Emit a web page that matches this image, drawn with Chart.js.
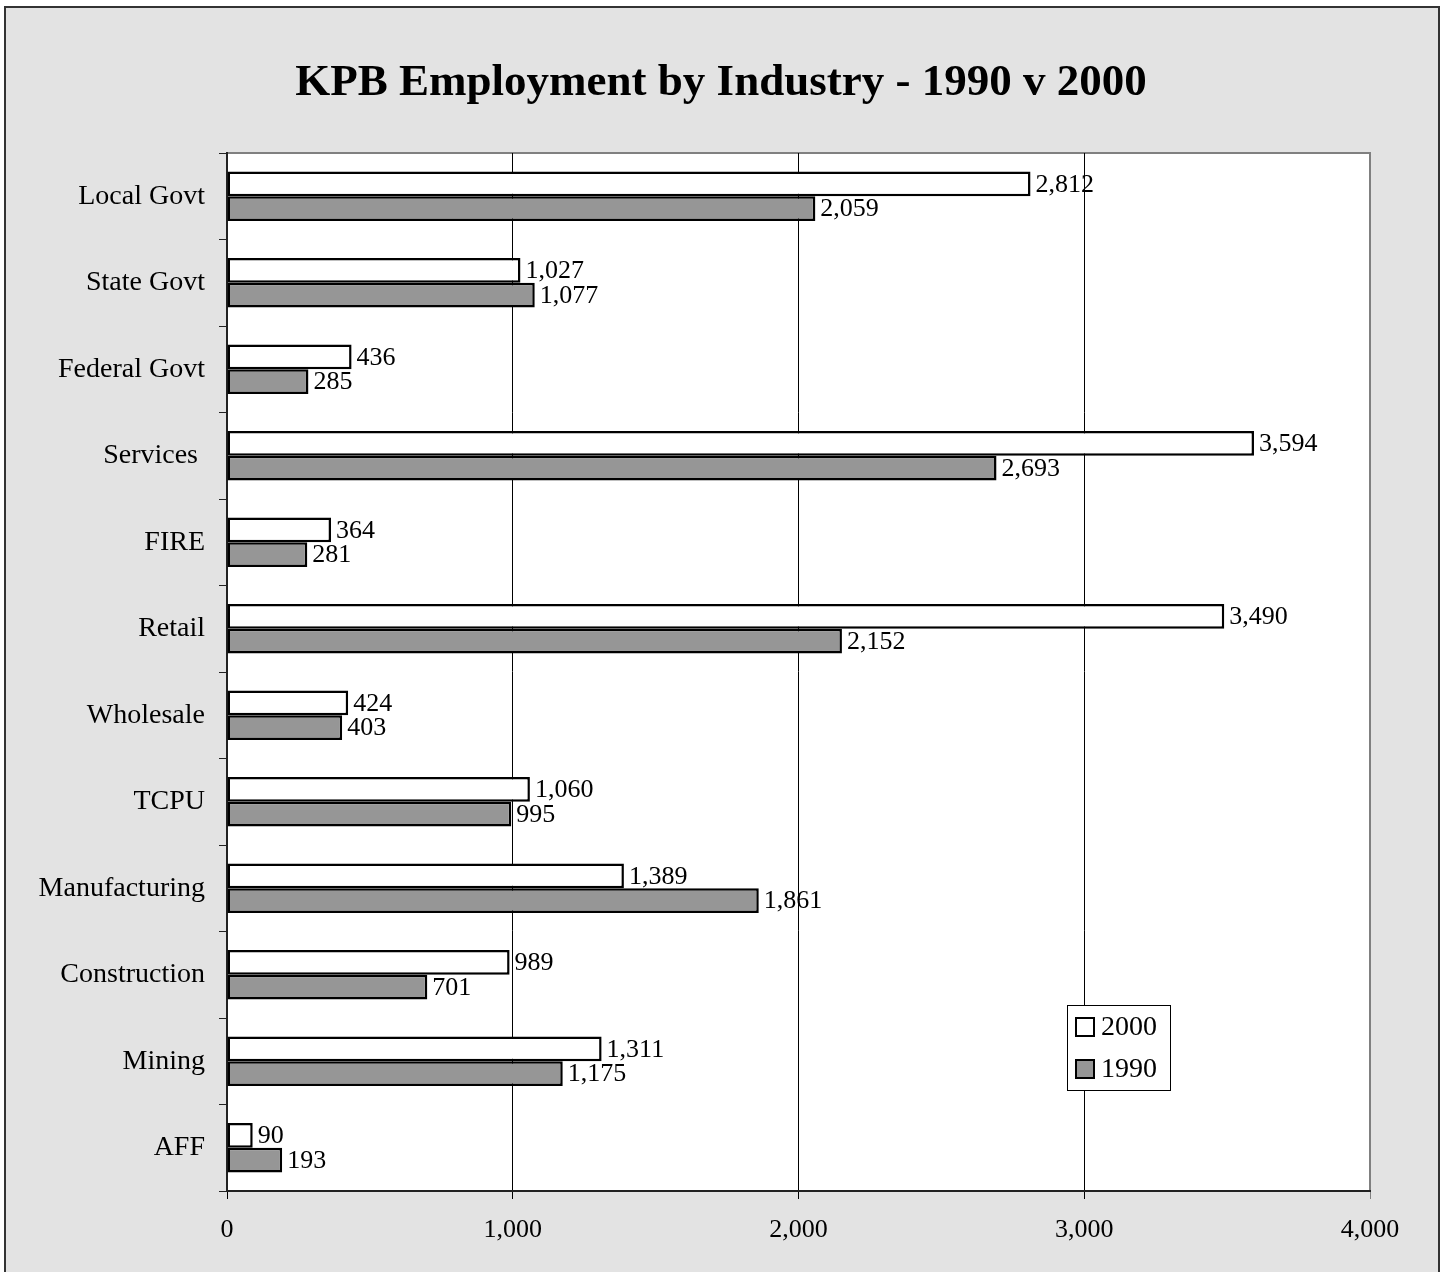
<!DOCTYPE html>
<html>
<head>
<meta charset="utf-8">
<title>KPB Employment by Industry - 1990 v 2000</title>
<script src="https://cdn.jsdelivr.net/npm/chart.js@4.4.1/dist/chart.umd.min.js"></script>
<style>
  html, body { margin: 0; padding: 0; background: #fff; }
  #frame {
    position: absolute; left: 4px; top: 6px;
    width: 1432px; height: 1268px;
    background: #e3e3e3; border: 2px solid #333;
  }
  #kpbChart { position: absolute; left: 0; top: 0; }
</style>
</head>
<body>
<div id="frame"></div>
<canvas id="kpbChart" width="1442" height="1272"></canvas>
<script>
// categories, top to bottom
const industries = ["Local Govt", "State Govt", "Federal Govt", "Services ", "FIRE", "Retail",
  "Wholesale", "TCPU", "Manufacturing", "Construction", "Mining", "AFF"];
const jobs2000 = [2812, 1027, 436, 3594, 364, 3490, 424, 1060, 1389, 989, 1311, 90];
const jobs1990 = [2059, 1077, 285, 2693, 281, 2152, 403, 995, 1861, 701, 1175, 193];
const seriesNames = ["2000", "1990"];
const xTicks = [0, 1000, 2000, 3000, 4000];
const chartTitle = "KPB Employment by Industry - 1990 v 2000";

const serif = "'Liberation Serif', 'Times New Roman', serif";
Chart.defaults.font.family = serif;
Chart.defaults.color = "#000";

function fmt(v) {
  return Number(v).toLocaleString("en-US");
}

// white plot area with grey top/right edge
const plotBg = {
  id: "plotBg",
  beforeDraw(chart) {
    const a = chart.chartArea, ctx = chart.ctx;
    ctx.save();
    ctx.fillStyle = "#fff";
    ctx.fillRect(a.left, a.top, a.right - a.left, a.bottom - a.top);
    ctx.strokeStyle = "#808080";
    ctx.lineWidth = 2;
    ctx.beginPath();
    ctx.moveTo(a.left, a.top);
    ctx.lineTo(a.right, a.top);
    ctx.lineTo(a.right, a.bottom);
    ctx.stroke();
    ctx.restore();
  }
};

// title centred on the whole page, not the plot
const pageTitle = {
  id: "pageTitle",
  afterDraw(chart) {
    const ctx = chart.ctx;
    ctx.save();
    ctx.font = "bold 45px " + serif;
    ctx.fillStyle = "#000";
    ctx.textAlign = "center";
    ctx.textBaseline = "alphabetic";
    ctx.fillText(chartTitle, chart.width / 2, 95);
    ctx.restore();
  }
};

// value labels at the end of each bar
const barLabels = {
  id: "barLabels",
  afterDatasetsDraw(chart) {
    const ctx = chart.ctx;
    ctx.save();
    ctx.font = "26px " + serif;
    ctx.fillStyle = "#000";
    ctx.textAlign = "left";
    ctx.textBaseline = "middle";
    chart.data.datasets.forEach(function (ds, i) {
      chart.getDatasetMeta(i).data.forEach(function (bar, j) {
        ctx.fillText(fmt(ds.data[j]), bar.x + 5, bar.y + 1);
      });
    });
    ctx.restore();
  }
};

// boxed legend in lower right of the plot
const boxLegend = {
  id: "boxLegend",
  afterDraw(chart) {
    const a = chart.chartArea, ctx = chart.ctx;
    const w = 103, h = 85;
    const x = a.right - 200 - w, y = a.bottom - 101 - h;
    ctx.save();
    ctx.fillStyle = "#fff";
    ctx.fillRect(x, y, w, h);
    ctx.strokeStyle = "#000";
    ctx.lineWidth = 1;
    ctx.strokeRect(x + 0.5, y + 0.5, w, h);
    ctx.font = "28px " + serif;
    ctx.textBaseline = "middle";
    chart.data.datasets.forEach(function (ds, i) {
      const cy = y + 22 + i * 42;
      ctx.fillStyle = ds.backgroundColor;
      ctx.fillRect(x + 9, cy - 9, 18, 18);
      ctx.lineWidth = 2;
      ctx.strokeStyle = "#000";
      ctx.strokeRect(x + 9, cy - 9, 18, 18);
      ctx.fillStyle = "#000";
      ctx.fillText(ds.label, x + 34, cy + 1);
    });
    ctx.restore();
  }
};

new Chart(document.getElementById("kpbChart"), {
  type: "bar",
  data: {
    labels: industries,
    datasets: [{
      label: seriesNames[0],
      data: jobs2000,
      backgroundColor: "#ffffff",
      borderColor: "#000",
      borderWidth: 2.5,
      borderSkipped: false,
      categoryPercentage: 0.57,
      barPercentage: 1.0
    }, {
      label: seriesNames[1],
      data: jobs1990,
      backgroundColor: "#969696",
      borderColor: "#000",
      borderWidth: 2.5,
      borderSkipped: false,
      categoryPercentage: 0.57,
      barPercentage: 1.0
    }]
  },
  options: {
    indexAxis: "y",
    responsive: false,
    animation: false,
    devicePixelRatio: 1,
    layout: { padding: { left: 0, right: 72, top: 153, bottom: 0 } },
    plugins: {
      legend: { display: false },
      tooltip: { enabled: false },
      title: { display: false }
    },
    scales: {
      x: {
        min: xTicks[0],
        max: xTicks[xTicks.length - 1],
        afterBuildTicks(scale) {
          scale.ticks = xTicks.map(v => ({ value: v }));
        },
        afterFit(scale) { scale.height = 81; },
        ticks: {
          font: { size: 26 },
          padding: 16,
          maxRotation: 0,
          callback: v => fmt(v)
        },
        grid: {
          color: ctx => (ctx.tick && ctx.tick.value === 4000 ? "#808080" : "#000"),
          lineWidth: 1,
          tickLength: 8
        },
        border: { display: true, color: "#222", width: 2 }
      },
      y: {
        afterFit(scale) { scale.width = 227; },
        ticks: { font: { size: 28 }, padding: 14 },
        grid: {
          drawOnChartArea: false,
          offset: true,
          color: "#222",
          lineWidth: 1,
          tickLength: 8
        },
        border: { display: true, color: "#222", width: 2 }
      }
    }
  },
  plugins: [plotBg, barLabels, boxLegend, pageTitle]
});
</script>
</body>
</html>
